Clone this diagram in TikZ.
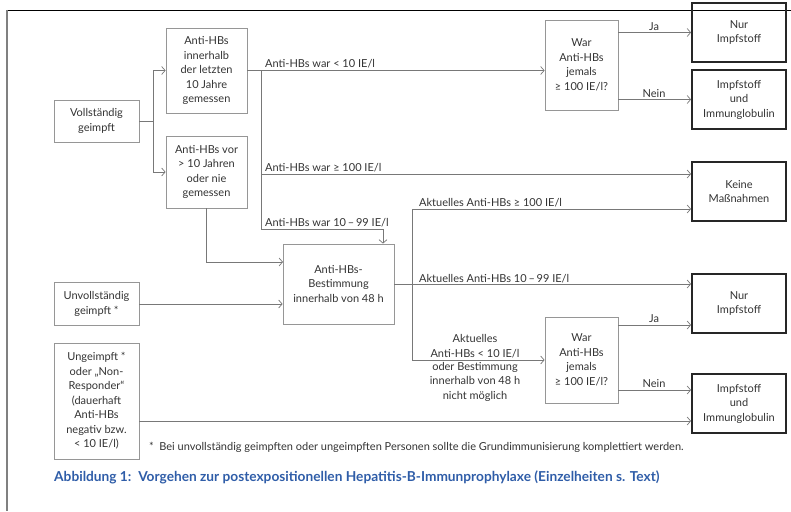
\documentclass[tikz,border=0pt]{standalone}
\usepackage{fontspec}
\setmainfont{Lato}
\usepackage{xcolor}
\usetikzlibrary{arrows.meta,calc,positioning}
\definecolor{capblue}{RGB}{47,93,168}
\definecolor{linegray}{RGB}{120,120,120}
\definecolor{boxgray}{RGB}{150,150,150}

\begin{document}
\begin{tikzpicture}[
      x=1pt,y=-1pt,
      txt/.style={font=\fontsize{11}{14.5}\selectfont,text=black!80},
      box/.style={rectangle,draw=boxgray,line width=0.8pt,align=center,txt,inner sep=2pt},
      result/.style={box,draw=black!85,line width=1.8pt,minimum width=94pt,minimum height=59pt},
      query/.style={box,minimum width=73pt},
      arr/.style={draw=linegray,line width=0.7pt,-{Straight Barb[length=3.5pt,width=8pt]}},
      con/.style={draw=linegray,line width=0.7pt},
      lab/.style={txt,inner sep=2pt,align=center}
    ]
    \useasboundingbox (0,0) rectangle (791,511);
    \draw[black,line width=0.6pt] (791,10) -- (7,10);
    \draw[gray,line width=1.2pt] (7,10) -- (7,511);

    \node[box,minimum width=85pt,minimum height=42pt] (voll) at (96.5,121) {Vollständig\\geimpft};
    \node[box,minimum width=81pt,minimum height=85pt] (inner) at (206.5,70.5) {Anti-HBs\\innerhalb\\der letzten\\10 Jahre\\gemessen};
    \node[box,minimum width=81pt,minimum height=72pt] (vor) at (206.5,172) {Anti-HBs vor\\> 10 Jahren\\oder nie\\gemessen};
    \node[box,minimum width=111pt,minimum height=80pt] (best) at (338.5,284) {Anti-HBs-\\Bestimmung\\innerhalb von 48 h};
    \node[box,minimum width=85pt,minimum height=43pt] (unv) at (96.5,304) {Unvollständig\\geimpft *};
    \node[box,minimum width=85pt,minimum height=116pt] (unge) at (96.5,401) {Ungeimpft *\\oder „Non-\\Responder“\\(dauerhaft\\Anti-HBs\\negativ bzw.\\< 10 IE/l)};
    \node[query,minimum height=90pt] (war1) at (581.5,65) {War\\Anti-HBs\\jemals\\≥ 100 IE/l?};
    \node[query,minimum height=86pt] (war2) at (581.5,360) {War\\Anti-HBs\\jemals\\≥ 100 IE/l?};
    \node[result] (nur1) at (739,32.5) {Nur\\Impfstoff};
    \node[result] (impf1) at (739,99.5) {Impfstoff\\und\\Immunglobulin};
    \node[result] (keine) at (739,191.5) {Keine\\Maßnahmen};
    \node[result] (nur2) at (739,303.5) {Nur\\Impfstoff};
    \node[result] (impf2) at (739,403.5) {Impfstoff\\und\\Immunglobulin};

    \coordinate (b1) at (261,70.5);
    \coordinate (b2) at (261,174);
    \coordinate (b3) at (383,229);
    \coordinate (d0) at (412,209);
    \coordinate (d1) at (412,285);
    \coordinate (d2) at (412,360);
    \coordinate (v1) at (283,262);
    \coordinate (ja2) at (618,325);
    \coordinate (nein2) at (618,390);
    \coordinate (u1) at (139,421);

    \draw[arr] (voll.east) -- ++(14,0) |- (inner.west);
    \draw[arr] (voll.east) -- ++(14,0) |- (vor.west);
    \draw[arr] (inner.east) -- (inner.east -| war1.west);
    \draw[arr] (b2) -- (b2 -| keine.west);
    \draw[arr] (b1) |- (b3) -- (b3 |- best.north);
    \draw[arr] (vor.south) |- (v1);
    \draw[arr] (unv.east) -- (unv.east -| best.west);
    \draw[arr] (best.east) -- (best.east -| nur2.west);
    \draw[con] (d0) -- (d2);
    \draw[arr] (d0) -- (d0 -| keine.west);
    \draw[arr] (d2) -- (d2 -| war2.west);
    \draw[arr] (war1.east |- nur1.west) -- (nur1.west);
    \draw[arr] (war1.east |- impf1.west) -- (impf1.west);
    \draw[arr] (ja2) -- (ja2 -| nur2.west);
    \draw[arr] (nein2) -- (nein2 -| impf2.west);
    \draw[arr] (u1) -- (u1 -| impf2.west);

    \node[lab,anchor=south west,xshift=2pt] at (b1) {Anti-HBs war < 10 IE/l};
    \node[lab,anchor=south west,xshift=2pt] at (b2) {Anti-HBs war ≥ 100 IE/l};
    \node[lab,anchor=south west,xshift=2pt] at (261,229) {Anti-HBs war 10\,–\,99 IE/l};
    \node[lab,anchor=south west,xshift=5pt] at (d0) {Aktuelles Anti-HBs ≥ 100 IE/l};
    \node[lab,anchor=south west,xshift=5pt] at (d1) {Aktuelles Anti-HBs 10\,–\,99 IE/l};
    \node[lab,anchor=south] at (475,360) {Aktuelles\\Anti-HBs < 10 IE/l};
    \node[lab,anchor=north] at (475,360) {oder Bestimmung\\innerhalb von 48 h\\nicht möglich};
    \node[lab,anchor=south] at (654,32.5) {Ja};
    \node[lab,anchor=south] at (654,99.5) {Nein};
    \node[lab,anchor=south] at (654,325) {Ja};
    \node[lab,anchor=south] at (654,390) {Nein};

    \node[lab,anchor=west] (note) at (147,447) {*\enspace Bei unvollständig geimpften oder ungeimpften Personen sollte die Grundimmunisierung komplettiert werden.};
    \node[anchor=west,inner sep=0pt,text=capblue,font=\fontsize{13.7}{16}\selectfont\bfseries] (cap) at (54,477) {Abbildung 1:\enspace Vorgehen zur postexpositionellen Hepatitis-B-Immunprophylaxe (Einzelheiten s. Text)};

  \end{tikzpicture}
\end{document}
